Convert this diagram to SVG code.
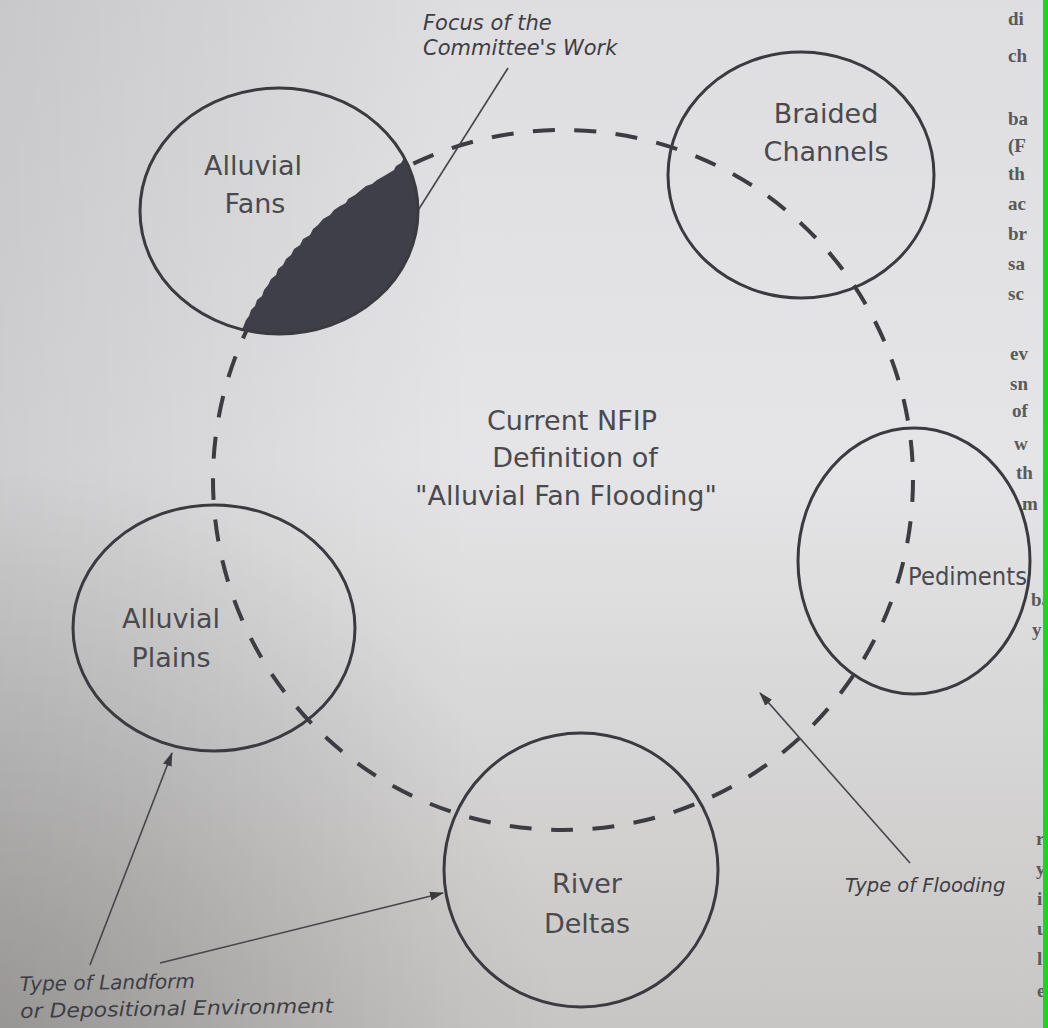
<svg xmlns="http://www.w3.org/2000/svg" width="1048" height="1028" viewBox="0 0 1048 1028">
  <defs>
    <linearGradient id="paperV" x1="0" y1="0" x2="0" y2="1">
      <stop offset="0" stop-color="#dedee0"/>
      <stop offset="0.45" stop-color="#e5e5e7"/>
      <stop offset="1" stop-color="#c8c6c4"/>
    </linearGradient>
    <linearGradient id="shadeLeft" x1="0" y1="0" x2="1" y2="0">
      <stop offset="0" stop-color="#000" stop-opacity="0.10"/>
      <stop offset="0.45" stop-color="#000" stop-opacity="0"/>
    </linearGradient>
    <radialGradient id="shadeCorner" gradientUnits="userSpaceOnUse" cx="0" cy="1028" r="560">
      <stop offset="0" stop-color="#000" stop-opacity="0.16"/>
      <stop offset="1" stop-color="#000" stop-opacity="0"/>
    </radialGradient>
    <clipPath id="pageClip">
      <rect x="0" y="0" width="1043" height="1028"/>
    </clipPath>
    <marker id="arrow" markerUnits="userSpaceOnUse" markerWidth="14" markerHeight="10" refX="13" refY="5" orient="auto">
      <path d="M0,0.5 L14,5 L0,9.5 Z" fill="#3c3c40"/>
    </marker>
    <style>
      .node { fill: none; stroke: #3a3a40; stroke-width: 3; }
      .label { font-family: "DejaVu Sans", "Liberation Sans", sans-serif; font-size: 27px; fill: #4a4a4e; text-anchor: middle; }
      .note { font-family: "DejaVu Sans", "Liberation Sans", sans-serif; font-style: italic; font-size: 21px; fill: #3e3e44; }
      .ring { fill: none; stroke: #3c3c42; stroke-width: 4; stroke-dasharray: 22 19.5; }
      .leader { fill: none; stroke: #45454a; stroke-width: 1.6; }
      .facing { font-family: "Liberation Serif", serif; font-size: 19px; font-weight: bold; fill: #5a5a5a; }
    </style>
  </defs>

  <!-- paper -->
  <rect x="0" y="0" width="1048" height="1028" fill="url(#paperV)"/>
  <rect x="0" y="0" width="1048" height="1028" fill="url(#shadeLeft)"/>
  <rect x="0" y="0" width="1048" height="1028" fill="url(#shadeCorner)"/>

  <!-- edge of the facing page -->
  <g class="facing" clip-path="url(#pageClip)">
    <text x="1008" y="25">di</text>
    <text x="1008" y="62">ch</text>
    <text x="1008" y="125">ba</text>
    <text x="1008" y="152">(F</text>
    <text x="1008" y="180">th</text>
    <text x="1008" y="210">ac</text>
    <text x="1008" y="240">br</text>
    <text x="1008" y="270">sa</text>
    <text x="1008" y="300">sc</text>
    <text x="1010" y="360">ev</text>
    <text x="1010" y="390">sn</text>
    <text x="1012" y="417">of</text>
    <text x="1014" y="450">w</text>
    <text x="1016" y="479">th</text>
    <text x="1022" y="510">m</text>
    <text x="1031" y="606">ba</text>
    <text x="1032" y="636">y</text>
    <text x="1036" y="845">r</text>
    <text x="1036" y="875">y</text>
    <text x="1037" y="905">i</text>
    <text x="1037" y="935">u</text>
    <text x="1037" y="965">l</text>
    <text x="1037" y="997">e</text>
  </g>
  <rect x="1043" y="0" width="5" height="1028" fill="#1ed41e"/>

  <!-- dashed ring and leader lines -->
  <g id="connectors">
    <circle class="ring" cx="563" cy="480" r="350"/>
    <line class="leader" x1="508" y1="68" x2="417" y2="212"/>
    <line class="leader" x1="910" y1="863" x2="760" y2="693" marker-end="url(#arrow)"/>
    <line class="leader" x1="90" y1="965" x2="172" y2="753" marker-end="url(#arrow)"/>
    <line class="leader" x1="160" y1="963" x2="443" y2="893" marker-end="url(#arrow)"/>
  </g>

  <g id="alluvial-fans">
    <!-- shaded segment: the part of the fan setting the committee studied;
         its ragged edge runs just outside the dashed ring -->
    <path id="focus-area" fill="#3f3f49" d="M404,158 L401,163 L396,166 L394,170 L389,173 L384,176 L377,180 L372,184 L366,186 L361,190 L355,195 L348,199 L346,203 L340,206 L334,210 L330,215 L323,219 L318,225 L313,229 L310,235 L303,239 L300,245 L294,249 L291,255 L286,259 L283,265 L278,269 L276,275 L271,279 L268,285 L264,290 L262,296 L257,300 L255,306 L251,310 L249,316 L246,320 L244,325 L242,329.6 A139,123 0 0 0 404,158 Z"/>
    <ellipse class="node" cx="279" cy="211" rx="139" ry="123"/>
    <text class="label" x="253" y="175">Alluvial</text>
    <text class="label" x="255" y="213">Fans</text>
  </g>

  <g id="braided-channels">
    <ellipse class="node" cx="801" cy="175" rx="133" ry="123"/>
    <text class="label" x="826" y="123">Braided</text>
    <text class="label" x="826" y="161">Channels</text>
  </g>

  <g id="pediments">
    <ellipse class="node" cx="914" cy="561" rx="116" ry="133"/>
    <text class="label" x="908" y="585" style="text-anchor:start;font-size:25px" textLength="119" lengthAdjust="spacingAndGlyphs">Pediments</text>
  </g>

  <g id="alluvial-plains">
    <ellipse class="node" cx="214" cy="628" rx="141" ry="123"/>
    <text class="label" x="171" y="628">Alluvial</text>
    <text class="label" x="171" y="667">Plains</text>
  </g>

  <g id="river-deltas">
    <ellipse class="node" cx="581" cy="870" rx="137" ry="137"/>
    <text class="label" x="587" y="893">River</text>
    <text class="label" x="587" y="933">Deltas</text>
  </g>

  <g id="nfip-definition">
    <text class="label" x="572" y="430">Current NFIP</text>
    <text class="label" x="575" y="467">Definition of</text>
    <text class="label" x="566" y="505">"Alluvial Fan Flooding"</text>
  </g>

  <g id="focus-note">
    <text class="note" x="423" y="30">Focus of the</text>
    <text class="note" x="423" y="55">Committee's Work</text>
  </g>

  <g id="flooding-note">
    <text class="note" x="845" y="892" style="font-size:19.5px">Type of Flooding</text>
  </g>

  <g id="landform-note" transform="rotate(-1 20 1000)">
    <text class="note" x="20" y="991" style="font-size:20px">Type of Landform</text>
    <text class="note" x="20" y="1018" style="font-size:20px" textLength="313" lengthAdjust="spacingAndGlyphs">or Depositional Environment</text>
  </g>
</svg>
